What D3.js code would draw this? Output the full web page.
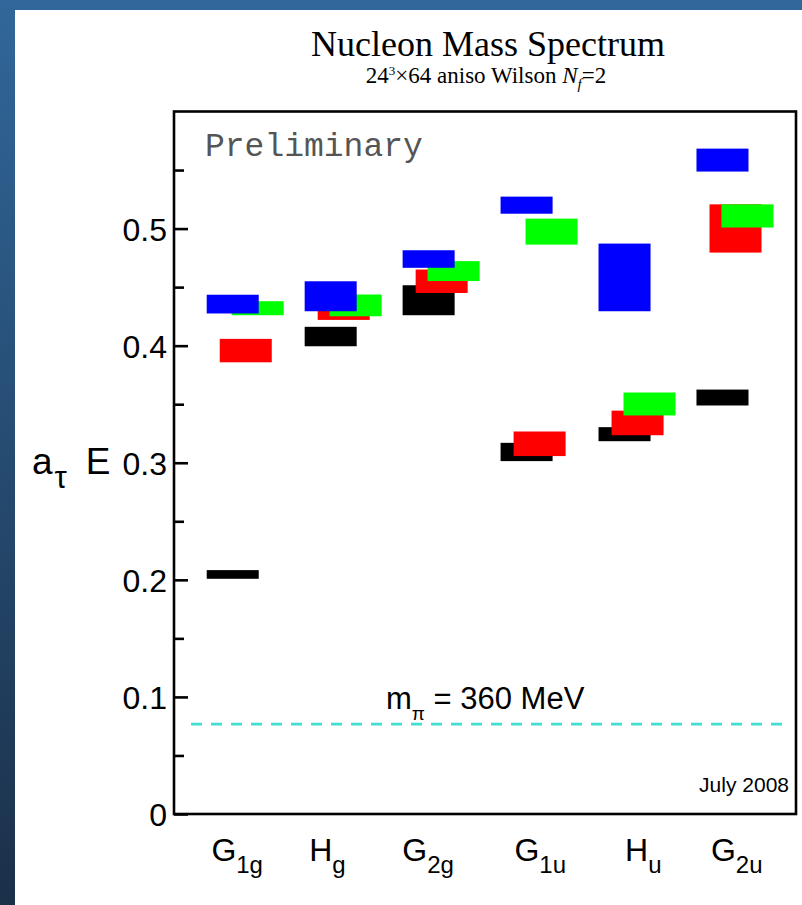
<!DOCTYPE html>
<html>
<head>
<meta charset="utf-8">
<script src="https://cdn.jsdelivr.net/npm/d3@7"></script>
<style>
  html, body { margin: 0; padding: 0; overflow: hidden; background: #fff; }
  svg { display: block; }
</style>
</head>
<body>
<svg id="chart" width="802" height="905"></svg>
<script>
// Nucleon energy levels per lattice irrep (a_tau E), centre value and half-width
const irrepMain = ["G", "H", "G", "G", "H", "G"];
const irrepSub  = ["1g", "g", "2g", "1u", "u", "2u"];

const blackE   = [0.2046, 0.4078, 0.4388, 0.3092, 0.3244, 0.3557];
const blackErr = [0.0037, 0.0083, 0.0128, 0.0078, 0.0060, 0.0068];
const redE     = [0.3958, 0.4280, 0.4550, 0.3162, 0.3340, 0.5001];
const redErr   = [0.0100, 0.0060, 0.0100, 0.0105, 0.0105, 0.0206];
const greenE   = [0.4320, 0.4344, 0.4637, 0.4974, 0.3502, 0.5108];
const greenErr = [0.0060, 0.0093, 0.0085, 0.0111, 0.0098, 0.0099];
const blueE    = [0.4355, 0.4422, 0.4740, 0.5200, 0.4583, 0.5585];
const blueErr  = [0.0080, 0.0128, 0.0075, 0.0073, 0.0289, 0.0098];

const yTickValues = [0, 0.1, 0.2, 0.3, 0.4, 0.5];
const yTickLabels = ["0", "0.1", "0.2", "0.3", "0.4", "0.5"];
const yMinorValues = [0.05, 0.15, 0.25, 0.35, 0.45, 0.55];

const pionMassE = 0.0768;
const pionLabel = "360 MeV";

// ---- layout ----
const W = 802, H = 905;
const frame = { left: 174, right: 796, top: 111.5, bottom: 814 };
const series = [
  { color: "#000000", E: blackE, err: blackErr, shift: 0 },
  { color: "#ff0000", E: redE,   err: redErr,   shift: 0.133 },
  { color: "#00ff00", E: greenE, err: greenErr, shift: 0.255 },
  { color: "#0000ff", E: blueE,  err: blueErr,  shift: 0 }
];
const boxStart = 0.334, boxWidth = 0.531;
const labelCentre = [0.311, 0.232, 0.260, 0.405, 0.457, 0.411];
const SANS = "'Liberation Sans', Arial, Helvetica, sans-serif";
const SERIF = "'Liberation Serif', 'Times New Roman', serif";

const svg = d3.select("#chart");

// slide background
const defs = svg.append("defs");
const grad = defs.append("linearGradient").attr("id", "bg")
  .attr("x1", 0).attr("y1", 0).attr("x2", 0).attr("y2", 1);
grad.append("stop").attr("offset", "0%").attr("stop-color", "#31679a");
grad.append("stop").attr("offset", "100%").attr("stop-color", "#1b3049");
svg.append("rect").attr("width", W).attr("height", H).attr("fill", "url(#bg)");
svg.append("rect").attr("x", 15).attr("y", 10).attr("width", W - 15).attr("height", H - 10).attr("fill", "#fff");

const x = d3.scaleLinear().domain([0, 6.35]).range([frame.left, frame.right]);
const y = d3.scaleLinear().domain([0, 0.6]).range([frame.bottom, frame.top]);

// title
svg.append("text")
  .attr("x", 488).attr("y", 56)
  .attr("text-anchor", "middle")
  .style("font-family", SERIF).style("font-size", "36px").attr("fill", "#000")
  .text("Nucleon Mass Spectrum");

const sub = svg.append("text")
  .attr("x", 486).attr("y", 83)
  .attr("text-anchor", "middle")
  .style("font-family", SERIF).style("font-size", "23px").attr("fill", "#000");
sub.append("tspan").text("24");
sub.append("tspan").attr("dy", -8).style("font-size", "13px").text("3");
sub.append("tspan").attr("dy", 8).text("\u00d764 aniso Wilson ");
sub.append("tspan").style("font-style", "italic").text("N");
sub.append("tspan").attr("dy", 6).style("font-style", "italic").style("font-size", "15px").text("f");
sub.append("tspan").attr("dy", -6).text("=2");

// energy boxes: drawn black, red, green, blue so later levels sit on top
const boxes = [];
series.forEach((s, si) => {
  s.E.forEach((e, i) => boxes.push({ si, i, e, err: s.err[i], color: s.color, shift: s.shift }));
});
svg.append("g").selectAll("rect")
  .data(boxes)
  .join("rect")
  .attr("x", d => x(d.i + boxStart + d.shift))
  .attr("width", x(boxWidth) - x(0))
  .attr("y", d => y(d.e + d.err))
  .attr("height", d => y(d.e - d.err) - y(d.e + d.err))
  .attr("fill", d => d.color);

// pion mass reference line
svg.append("line")
  .attr("x1", frame.left + 17).attr("x2", frame.right - 8)
  .attr("y1", y(pionMassE)).attr("y2", y(pionMassE))
  .attr("stroke", "#40e0d0").attr("stroke-width", 2.6)
  .attr("stroke-dasharray", "11,9");

const mpi = svg.append("text")
  .attr("x", 386).attr("y", 709)
  .style("font-family", SANS).style("font-size", "31px").attr("fill", "#000");
mpi.append("tspan").text("m");
mpi.append("tspan").attr("dy", 11).style("font-size", "19px").text("\u03c0");
mpi.append("tspan").attr("dy", -11).text(" = " + pionLabel);

// y axis: major and minor ticks pointing into the frame
const yAxis = svg.append("g")
  .attr("transform", `translate(${frame.left},0)`)
  .call(d3.axisLeft(y).tickValues(yTickValues).tickSize(-14).tickPadding(7)
    .tickFormat((d, i) => yTickLabels[i]));
yAxis.select(".domain").remove();
yAxis.selectAll("line").attr("stroke", "#000").attr("stroke-width", 2.6);
yAxis.selectAll("text")
  .attr("dy", "0.36em")
  .style("font-family", SANS).style("font-size", "32px").attr("fill", "#000");

const yMinor = svg.append("g")
  .attr("transform", `translate(${frame.left},0)`)
  .call(d3.axisLeft(y).tickValues(yMinorValues).tickSize(-10).tickFormat(""));
yMinor.select(".domain").remove();
yMinor.selectAll("line").attr("stroke", "#000").attr("stroke-width", 2.6);

// frame
svg.append("rect")
  .attr("x", frame.left).attr("y", frame.top)
  .attr("width", frame.right - frame.left).attr("height", frame.bottom - frame.top)
  .attr("fill", "none").attr("stroke", "#000").attr("stroke-width", 2.6);

// y axis title a_tau E
const yTitle = svg.append("text")
  .attr("x", 32).attr("y", 474)
  .style("font-family", SANS).style("font-size", "37px").attr("fill", "#000");
yTitle.append("tspan").text("a");
yTitle.append("tspan").attr("dy", 14).attr("dx", 2).style("font-size", "31px").text("\u03c4");
yTitle.append("tspan").attr("dy", -14).attr("dx", 19).text("E");

// irrep labels under the frame
const cat = svg.append("g").selectAll("text")
  .data(irrepMain)
  .join("text")
  .attr("x", (d, i) => x(i + boxStart + labelCentre[i]))
  .attr("y", 861)
  .attr("text-anchor", "middle")
  .style("font-family", SANS).style("font-size", "32px").attr("fill", "#000");
cat.append("tspan").text(d => d);
cat.append("tspan").attr("dy", 12).style("font-size", "24px").text((d, i) => irrepSub[i]);

// annotations
svg.append("text")
  .attr("x", 205).attr("y", 156)
  .style("font-family", "'Liberation Mono', 'Courier New', monospace")
  .style("font-size", "33px").attr("fill", "#555")
  .text("Preliminary");

svg.append("text")
  .attr("x", 789).attr("y", 792)
  .attr("text-anchor", "end")
  .style("font-family", SANS).style("font-size", "21px").attr("fill", "#000")
  .text("July 2008");
</script>
</body>
</html>
